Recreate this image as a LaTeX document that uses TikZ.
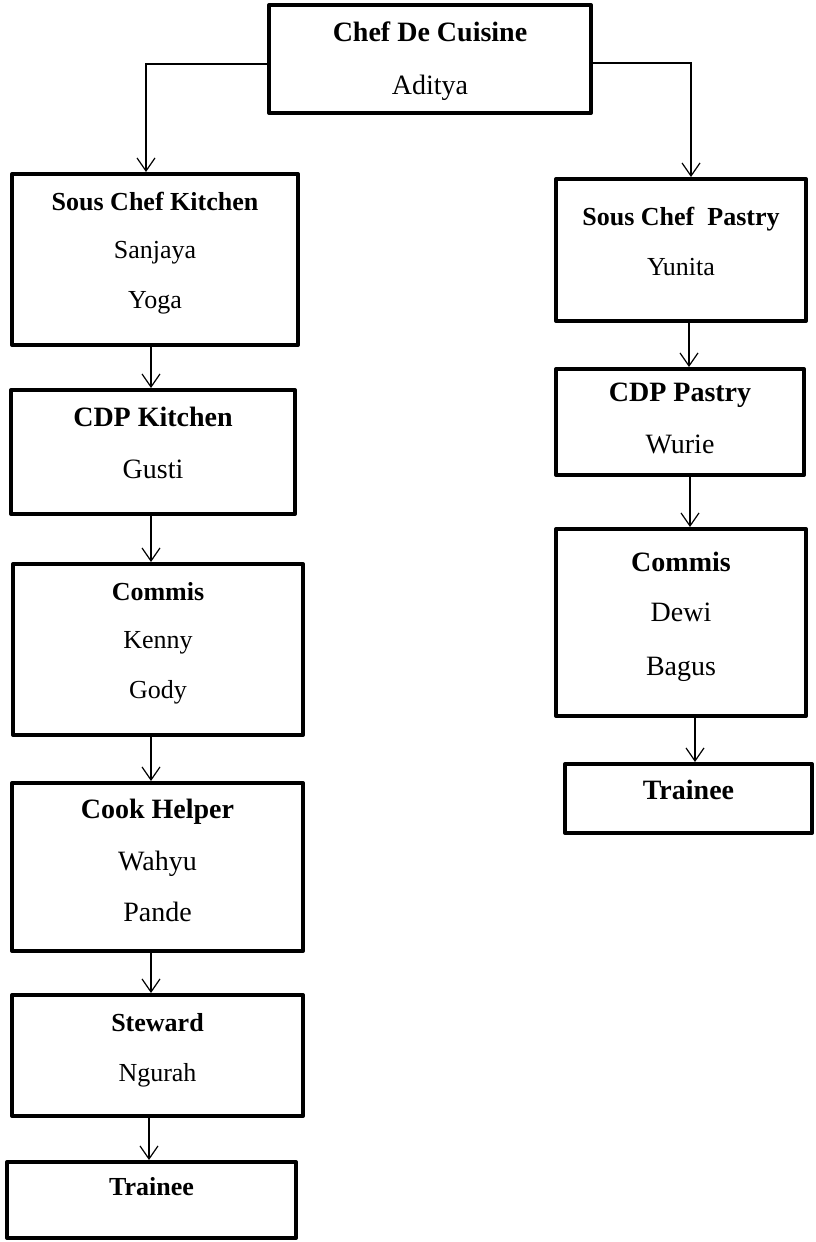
\documentclass[tikz,border=0pt]{standalone}
\usepackage{fontspec}
\setmainfont{Liberation Serif}
\usetikzlibrary{arrows.meta}
\tikzset{
  orgbox/.style={draw=black, line width=4pt, line join=round, fill=none, inner sep=0pt, rectangle},
  ttl/.style={anchor=base, inner sep=0pt, font=\bfseries},
  nm/.style={anchor=base, inner sep=0pt},
  conn/.style={draw=black, line width=1.2pt, -{Straight Barb[length=13pt,width=18pt]}},
}
\newcommand{\fsA}{\fontsize{26}{30}\selectfont}
\newcommand{\fsB}{\fontsize{28}{32}\selectfont}
\begin{document}
\begin{tikzpicture}[x=1pt,y=-1pt]
\useasboundingbox[fill=white] (0,0) rectangle (816,1242);
% boxes
\node[orgbox, minimum width=322pt, minimum height=108pt] (chef) at (430,59) {};
\node[orgbox, minimum width=286pt, minimum height=171pt] (skit) at (155,259.5) {};
\node[orgbox, minimum width=284pt, minimum height=124pt] (cdpk) at (153,452) {};
\node[orgbox, minimum width=290pt, minimum height=171pt] (comk) at (158,649.5) {};
\node[orgbox, minimum width=291pt, minimum height=168pt] (cook) at (157.5,867) {};
\node[orgbox, minimum width=291pt, minimum height=121pt] (stew) at (157.5,1055.5) {};
\node[orgbox, minimum width=289pt, minimum height=76pt] (traik) at (151.5,1200) {};
\node[orgbox, minimum width=250pt, minimum height=142pt] (spas) at (681,250) {};
\node[orgbox, minimum width=248pt, minimum height=106pt] (cdpp) at (680,422) {};
\node[orgbox, minimum width=250pt, minimum height=187pt] (comp) at (681,622.5) {};
\node[orgbox, minimum width=247pt, minimum height=69pt] (traip) at (688.5,798.5) {};
% texts
\node[ttl, font=\bfseries\fsB] (chefA) at (430,41) {Chef De Cuisine};
\node[nm, font=\fsB] (chefB) at (430,94) {Aditya};
\node[ttl, font=\bfseries\fsA] (skitA) at (155,210) {Sous Chef Kitchen};
\node[nm, font=\fsA] (skitB) at (155,258) {Sanjaya};
\node[nm, font=\fsA] (skitC) at (155,308) {Yoga};
\node[ttl, font=\bfseries\fsB] (cdpkA) at (153,426) {CDP Kitchen};
\node[nm, font=\fsB] (cdpkB) at (153,478) {Gusti};
\node[ttl, font=\bfseries\fsA] (comkA) at (158,600) {Commis};
\node[nm, font=\fsA] (comkB) at (158,648) {Kenny};
\node[nm, font=\fsA] (comkC) at (158,698) {Gody};
\node[ttl, font=\bfseries\fsB] (cookA) at (157.5,818) {Cook Helper};
\node[nm, font=\fsB] (cookB) at (157.5,870) {Wahyu};
\node[nm, font=\fsB] (cookC) at (157.5,921) {Pande};
\node[ttl, font=\bfseries\fsA] (stewA) at (157.5,1031) {Steward};
\node[nm, font=\fsA] (stewB) at (157.5,1081) {Ngurah};
\node[ttl, font=\bfseries\fsA] (traikA) at (151.5,1195) {Trainee};
\node[ttl, font=\bfseries\fsA] (spasA) at (681,225) {Sous Chef\ \ Pastry};
\node[nm, font=\fsA] (spasB) at (681,275) {Yunita};
\node[ttl, font=\bfseries\fsB] (cdppA) at (680,401) {CDP Pastry};
\node[nm, font=\fsB] (cdppB) at (680,453) {Wurie};
\node[ttl, font=\bfseries\fsB] (compA) at (681,571) {Commis};
\node[nm, font=\fsB] (compB) at (681,621) {Dewi};
\node[nm, font=\fsB] (compC) at (681,675) {Bagus};
\node[ttl, font=\bfseries\fsB] (traipA) at (688.5,799) {Trainee};
% connectors
\draw[conn] ([yshift=-5pt]chef.west) -| ([xshift=-9pt]skit.north);
\draw[conn] ([yshift=-4pt]chef.east) -| ([xshift=10pt]spas.north);
\draw[conn] ([xshift=-4pt]skit.south) -- ([xshift=-4pt]skit.south |- cdpk.north);
\draw[conn] ([xshift=-2pt]cdpk.south) -- ([xshift=-2pt]cdpk.south |- comk.north);
\draw[conn] ([xshift=-7pt]comk.south) -- ([xshift=-7pt]comk.south |- cook.north);
\draw[conn] ([xshift=-6.5pt]cook.south) -- ([xshift=-6.5pt]cook.south |- stew.north);
\draw[conn] ([xshift=-8.5pt]stew.south) -- ([xshift=-8.5pt]stew.south |- traik.north);
\draw[conn] ([xshift=8pt]spas.south) -- ([xshift=8pt]spas.south |- cdpp.north);
\draw[conn] ([xshift=10pt]cdpp.south) -- ([xshift=10pt]cdpp.south |- comp.north);
\draw[conn] ([xshift=14pt]comp.south) -- ([xshift=14pt]comp.south |- traip.north);
\end{tikzpicture}
\end{document}
